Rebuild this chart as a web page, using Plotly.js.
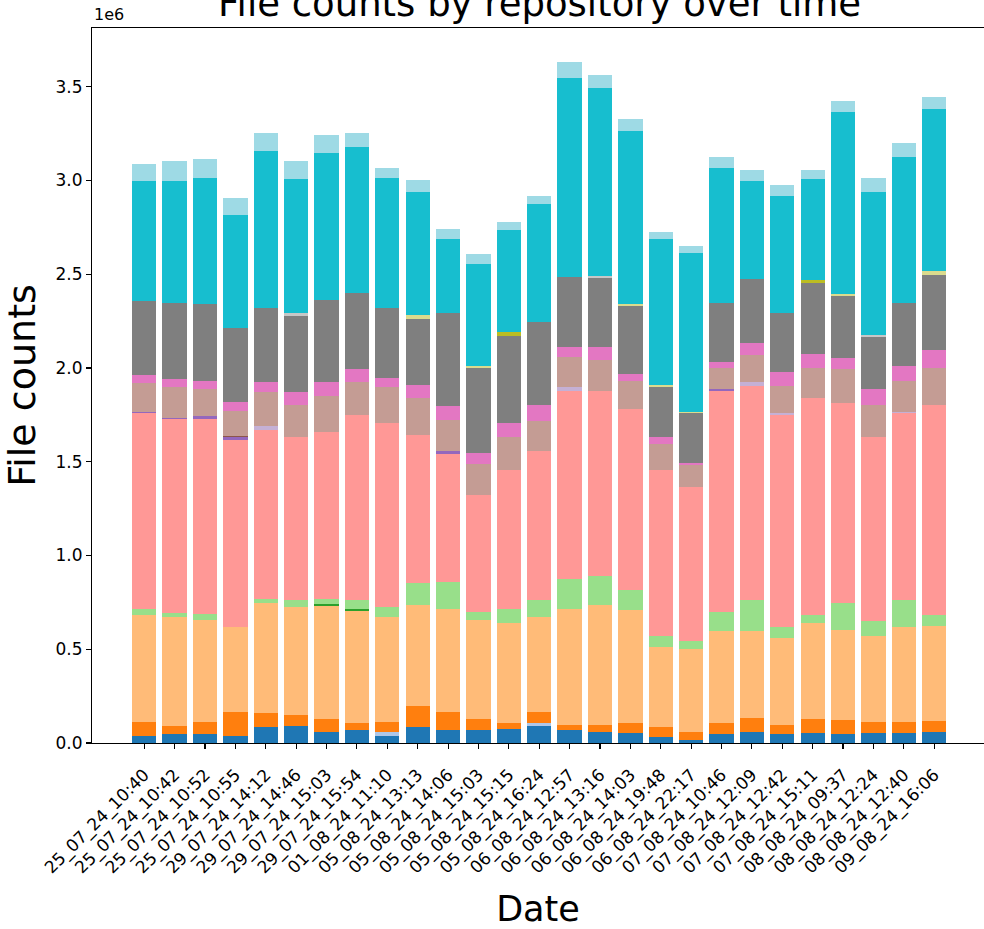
<!DOCTYPE html>
<html>
<head>
<meta charset="utf-8">
<script src="https://cdn.plot.ly/plotly-3.0.1.min.js"></script>
<style>html,body{margin:0;padding:0;background:#fff;}#chart{width:984px;height:929px;}</style>
</head>
<body>
<div id="chart"></div>
<script>
// Dates (x categories)
const dates = ["25_07_24_10:40","25_07_24_10:42","25_07_24_10:52","25_07_24_10:55","29_07_24_14:12","29_07_24_14:46","29_07_24_15:03","29_07_24_15:54","01_08_24_11:10","05_08_24_13:13","05_08_24_14:06","05_08_24_15:03","05_08_24_15:15","05_08_24_16:24","06_08_24_12:57","06_08_24_13:16","06_08_24_14:03","06_08_24_19:48","06_08_24_22:17","07_08_24_10:46","07_08_24_12:09","07_08_24_12:42","07_08_24_15:11","08_08_24_09:37","08_08_24_12:24","08_08_24_12:40","09_08_24_16:06"];

// File counts per repository (thousands), stacked bottom to top
const repo01 = [37,46,46,39,83,91,60,67,39,83,67,67,76,91,67,60,53,30,16,46,60,46,53,46,53,53,60];
const repo02 = [0,0,0,0,0,0,0,0,21,0,0,0,0,16,0,0,0,0,0,0,0,0,0,0,0,0,0];
const repo03 = [76,46,68,128,77,60,68,39,53,112,100,61,30,60,30,37,53,53,44,61,76,52,75,75,60,60,60];
const repo04 = [567,579,544,451,588,574,604,597,558,542,549,529,535,505,618,641,602,430,439,490,461,460,513,483,460,505,506];
const repo05 = [0,0,0,0,0,0,7,14,0,0,0,0,0,0,0,0,0,0,0,0,0,0,0,0,0,0,0];
const repo06 = [36,23,28,0,21,37,30,45,53,116,144,44,75,91,160,151,107,60,45,104,165,61,44,142,75,144,59];
const repo07 = [0,0,0,0,0,0,0,0,0,0,0,0,0,0,0,0,0,0,0,0,0,0,0,0,0,0,0];
const repo08 = [1043,1034,1043,998,901,869,892,989,981,790,682,620,741,792,1004,989,966,883,822,1178,1141,1132,1157,1066,983,997,1118];
const repo09 = [7,7,16,18,0,0,0,0,0,0,14,0,0,0,0,0,0,0,0,7,0,0,0,0,0,0,0];
const repo10 = [0,0,0,0,21,0,0,0,0,0,0,0,0,0,22,0,0,0,0,0,21,9,0,0,0,7,0];
const repo11 = [0,0,0,5,0,0,0,0,0,0,0,0,0,0,0,0,0,0,0,0,0,0,0,0,0,0,0];
const repo12 = [153,161,142,133,181,172,189,174,196,199,165,165,174,160,159,167,150,137,114,114,144,144,158,181,172,167,197];
const repo13 = [44,44,44,46,52,69,75,68,45,68,75,60,75,89,53,67,38,37,14,30,67,75,75,60,84,75,98];
const repo14 = [0,0,0,0,0,0,0,0,0,0,0,0,0,0,0,0,0,0,0,0,0,0,0,0,0,0,0];
const repo15 = [394,408,410,393,394,407,440,407,372,353,497,453,462,439,370,368,361,271,265,316,341,316,378,330,280,340,400];
const repo16 = [0,0,0,0,0,16,0,0,0,0,0,0,0,0,0,9,0,0,0,0,0,0,0,0,9,0,0];
const repo17 = [0,0,0,0,0,0,0,0,0,0,0,0,23,0,0,0,0,0,0,0,0,0,16,0,0,0,0];
const repo18 = [0,0,0,0,0,0,0,0,0,18,0,14,0,0,0,0,11,10,7,0,0,0,0,9,0,0,18];
const repo19 = [640,649,672,604,838,711,784,778,693,656,394,544,544,634,1064,1004,922,777,846,720,521,622,537,973,761,778,867];
const repo20 = [91,107,100,91,98,98,91,76,53,67,52,53,43,39,84,69,66,36,37,59,60,59,51,61,76,76,61];

const repoNames = ["repo_01","repo_02","repo_03","repo_04","repo_05","repo_06","repo_07","repo_08","repo_09","repo_10","repo_11","repo_12","repo_13","repo_14","repo_15","repo_16","repo_17","repo_18","repo_19","repo_20"];
const repoSeries = [repo01,repo02,repo03,repo04,repo05,repo06,repo07,repo08,repo09,repo10,repo11,repo12,repo13,repo14,repo15,repo16,repo17,repo18,repo19,repo20];
const yTickVals = [0,0.5e6,1e6,1.5e6,2e6,2.5e6,3e6,3.5e6];
const yTickText = ["0.0","0.5","1.0","1.5","2.0","2.5","3.0","3.5"];

const tab20 = ["#1f77b4","#aec7e8","#ff7f0e","#ffbb78","#2ca02c","#98df8a","#d62728","#ff9896","#9467bd","#c5b0d5","#8c564b","#c49c94","#e377c2","#f7b6d2","#7f7f7f","#c7c7c7","#bcbd22","#dbdb8d","#17becf","#9edae5"];

const traces = repoSeries.map((s, i) => ({
  type: "bar",
  name: repoNames[i],
  x: dates,
  y: s.map(v => v * 1000),
  marker: {color: tab20[i], line: {width: 0}},
  showlegend: false
}));

const font = "DejaVu Sans, Verdana, sans-serif";
const layout = {
  width: 984, height: 929,
  margin: {l: 92, r: 0, t: 28, b: 186},
  paper_bgcolor: "#fff", plot_bgcolor: "#fff",
  barmode: "stack", bargap: 0.2,
  font: {family: font, color: "#000"},
  title: {text: "File counts by repository over time", font: {size: 37, family: font, color: "#000"},
          xref: "container", x: 0.5483, xanchor: "center", yref: "container", y: 0.9962, yanchor: "middle"},
  xaxis: {
    type: "category", range: [-1.72, 27.64],
    showline: true, linecolor: "#000", linewidth: 1.1, mirror: true,
    ticks: "outside", ticklen: 5, tickwidth: 1.1, tickcolor: "#000",
    tickangle: -45, ticklabelstandoff: 9, tickfont: {size: 17, family: font, color: "#000"},
    showgrid: false, zeroline: false,
    title: {text: "Date", font: {size: 35, family: font, color: "#000"}, standoff: 20}
  },
  yaxis: {
    range: [0, 3.813e6],
    tickvals: yTickVals, ticktext: yTickText,
    showline: true, linecolor: "#000", linewidth: 1.1,
    ticks: "outside", ticklen: 5, tickwidth: 1.1, tickcolor: "#000",
    tickfont: {size: 17, family: font, color: "#000"},
    showgrid: false, zeroline: false,
    title: {text: "File counts", font: {size: 38, family: font, color: "#000"}, standoff: 14}
  },
  annotations: [{text: "1e6", xref: "paper", yref: "paper", x: 0, y: 1, xanchor: "left", yanchor: "bottom",
                 yshift: 2, showarrow: false, font: {size: 16, family: font, color: "#000"}}]
};

Plotly.newPlot("chart", traces, layout, {displayModeBar: false, staticPlot: true});
</script>
</body>
</html>
